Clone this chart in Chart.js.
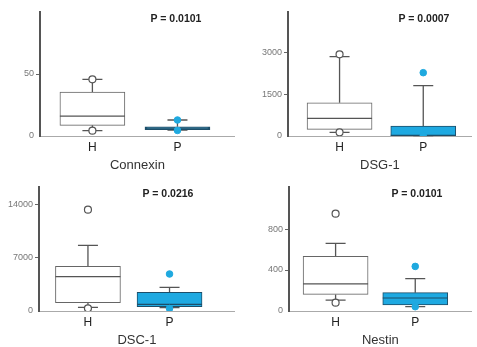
<!DOCTYPE html>
<html>
<head>
<meta charset="utf-8">
<script src="https://cdn.jsdelivr.net/npm/chart.js@4/dist/chart.umd.min.js"></script>
<style>
body { margin: 0; background: #fff; font-family: "Liberation Sans", Arial, sans-serif; }
#wrap { position: relative; width: 477px; height: 347px; }
canvas { position: absolute; }
.pval { position: absolute; font-weight: bold; font-size: 10.5px; color: #222; transform: translateX(-50%); white-space: nowrap; }
</style>
</head>
<body>
<div id="wrap"></div>
<script>
const groups = ['H', 'P'];
const panelNames = ['Connexin', 'DSG-1', 'DSC-1', 'Nestin'];
const pValues = ['P = 0.0101', 'P = 0.0007', 'P = 0.0216', 'P = 0.0101'];
const yTicks = [[0, 50], [0, 1500, 3000], [0, 7000, 14000], [0, 400, 800]];

// box plot stats per panel, [H, P]
const q1 = [[8.6, 5.2], [240, 15], [1090, 565], [162, 59]];
const median = [[16, 6.3], [636, 20], [4500, 880], [264, 127]];
const q3 = [[35.5, 7.4], [1196, 360], [5865, 2450], [533, 179]];
const whiskerLow = [[4.3, 4.8], [133, 10], [485, 460], [107, 42]];
const whiskerHigh = [[45.7, 12.9], [2850, 1807], [8620, 3110], [660, 315]];
const hPoints = [[45.7, 4.3], [2935, 133], [13290, 355], [950, 81]];
const pPoints = [[12.9, 4.5], [2275, 10], [4855, 330], [435, 42]];

const layouts = [
    { left: 0,   top: 0,   w: 240, axisW: 40, padR: 3, xMin: 0.384, xMax: 2.674, yMax: 100,   px: 176, py: 12 },
    { left: 240, top: 0,   w: 237, axisW: 48, padR: 0, xMin: 0.384, xMax: 2.58,  yMax: 4455,  px: 424, py: 12 },
    { left: 0,   top: 175, w: 240, axisW: 39, padR: 3, xMin: 0.4,   xMax: 2.8,   yMax: 16270, px: 168, py: 187 },
    { left: 240, top: 175, w: 237, axisW: 49, padR: 0, xMin: 0.415, xMax: 2.71,  yMax: 1210,  px: 417, py: 187 }
];

const boxParts = {
    id: 'boxParts',
    beforeDatasetsDraw(chart, args, opts) {
        const p = opts.panel;
        const ctx = chart.ctx, x = chart.scales.x, y = chart.scales.y;
        ctx.save();
        ctx.strokeStyle = '#555';
        ctx.lineWidth = 1.3;
        groups.forEach((g, i) => {
            const cx = x.getPixelForValue(i + 1);
            const lo = y.getPixelForValue(whiskerLow[p][i]);
            const hi = y.getPixelForValue(whiskerHigh[p][i]);
            const b1 = y.getPixelForValue(q1[p][i]);
            const b3 = y.getPixelForValue(q3[p][i]);
            ctx.beginPath();
            ctx.moveTo(cx, b3); ctx.lineTo(cx, hi);
            ctx.moveTo(cx - 10, hi); ctx.lineTo(cx + 10, hi);
            ctx.moveTo(cx, b1); ctx.lineTo(cx, lo);
            ctx.moveTo(cx - 10, lo); ctx.lineTo(cx + 10, lo);
            ctx.stroke();
        });
        ctx.restore();
    },
    afterDatasetDraw(chart, args, opts) {
        if (args.index !== 0) return;
        const p = opts.panel;
        const ctx = chart.ctx, y = chart.scales.y;
        const meta = chart.getDatasetMeta(0);
        ctx.save();
        ctx.lineWidth = 1.2;
        groups.forEach((g, i) => {
            const bar = meta.data[i];
            const my = y.getPixelForValue(median[p][i]);
            ctx.strokeStyle = i === 0 ? '#555' : '#1d4e69';
            ctx.beginPath();
            ctx.moveTo(bar.x - bar.width / 2, my);
            ctx.lineTo(bar.x + bar.width / 2, my);
            ctx.stroke();
        });
        ctx.restore();
    }
};

const wrap = document.getElementById('wrap');

layouts.forEach((lay, p) => {
    const canvas = document.createElement('canvas');
    canvas.width = lay.w;
    canvas.height = 173;
    canvas.style.left = lay.left + 'px';
    canvas.style.top = lay.top + 'px';
    wrap.appendChild(canvas);

    const pv = document.createElement('div');
    pv.className = 'pval';
    pv.textContent = pValues[p];
    pv.style.left = lay.px + 'px';
    pv.style.top = lay.py + 'px';
    wrap.appendChild(pv);

    new Chart(canvas.getContext('2d'), {
        type: 'bar',
        data: {
            datasets: [{
                order: 2,
                data: groups.map((g, i) => ({ x: i + 1, y: [q1[p][i], q3[p][i]] })),
                backgroundColor: ['#ffffff', '#1ea9e1'],
                borderColor: ['#666666', '#1d4e69'],
                borderWidth: p === 0 ? [1, 2] : 1,
                borderSkipped: false,
                barThickness: 65
            }, {
                type: 'scatter',
                order: 1,
                data: hPoints[p].map(v => ({ x: 1, y: v })),
                pointRadius: 3.5,
                pointBackgroundColor: '#ffffff',
                pointBorderColor: '#555',
                pointBorderWidth: 1.2
            }, {
                type: 'scatter',
                order: 1,
                data: pPoints[p].map(v => ({ x: 2, y: v })),
                pointRadius: 3.3,
                pointBackgroundColor: '#1fa9df',
                pointBorderColor: '#1fa9df',
                pointBorderWidth: 1
            }]
        },
        options: {
            responsive: false,
            animation: false,
            layout: { padding: { top: 12, right: lay.padR, left: 0, bottom: 0 } },
            plugins: {
                legend: { display: false },
                tooltip: { enabled: false },
                boxParts: { panel: p }
            },
            scales: {
                x: {
                    type: 'linear',
                    offset: false,
                    min: lay.xMin,
                    max: lay.xMax,
                    afterBuildTicks: s => { s.ticks = groups.map((g, i) => ({ value: i + 1 })); },
                    afterFit: s => { s.height = 37; },
                    ticks: {
                        callback: v => groups[v - 1],
                        font: { family: 'Liberation Sans', size: 12 },
                        color: '#222',
                        padding: 4,
                        maxRotation: 0
                    },
                    grid: { display: false, drawTicks: false },
                    border: { display: true, color: '#aaa', width: 1, dash: [2, 2] },
                    title: {
                        display: true,
                        text: panelNames[p],
                        font: { family: 'Liberation Sans', size: 13 },
                        color: '#333',
                        padding: { top: 0, bottom: 0 }
                    }
                },
                y: {
                    min: 0,
                    max: lay.yMax,
                    afterBuildTicks: s => { s.ticks = yTicks[p].map(v => ({ value: v })); },
                    afterFit: s => { s.width = lay.axisW; },
                    ticks: {
                        callback: v => String(v),
                        font: { family: 'Liberation Sans', size: 9 },
                        color: '#777',
                        padding: 2
                    },
                    grid: {
                        drawOnChartArea: false,
                        drawTicks: true,
                        tickLength: 4,
                        color: c => (c.tick && c.tick.value === 0) ? 'rgba(0,0,0,0)' : '#666'
                    },
                    border: { display: true, color: '#555', width: 2 }
                }
            }
        },
        plugins: [boxParts]
    });
});
</script>
</body>
</html>
